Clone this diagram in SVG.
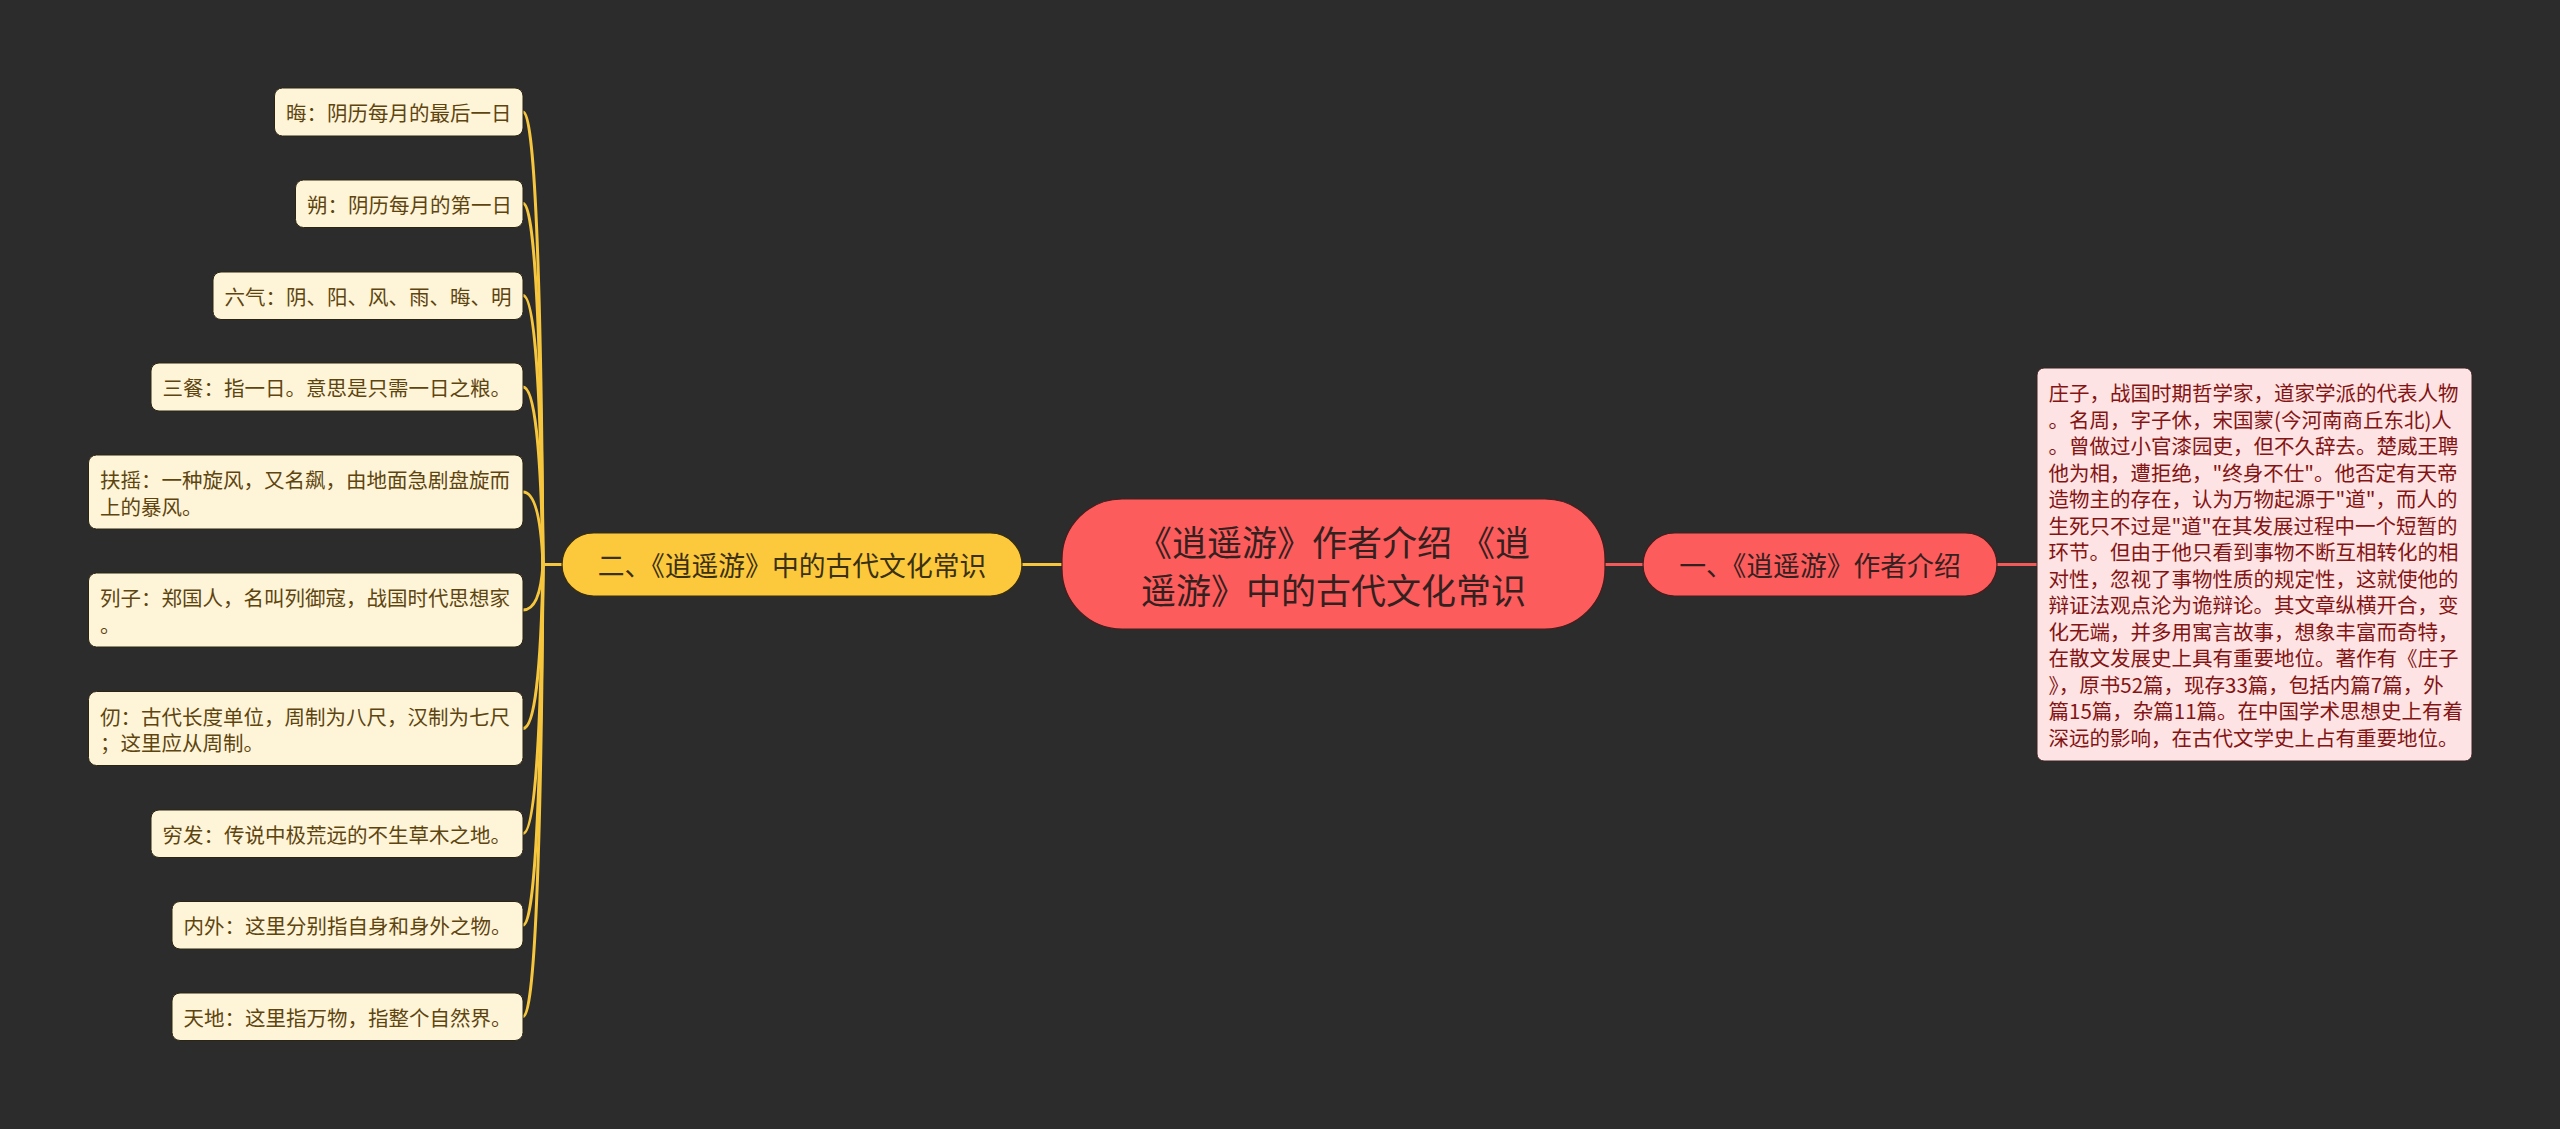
<svg xmlns="http://www.w3.org/2000/svg" width="2560" height="1129" viewBox="0 0 2560 1129">
<style>
text{font-family:"Noto Sans CJK SC","Noto Sans",sans-serif;dominant-baseline:central}
.leaf rect{fill:#fef5d9;stroke:#2a2410;stroke-width:1}
.leaf text{font-size:20.5px;fill:#5e4510}
.yel{fill:none;stroke:#f6c73e;stroke-width:3}
.red{fill:none;stroke:#f25a5a;stroke-width:3}
.redn rect{fill:#fc5c5c;stroke:#4a1c1c;stroke-width:1.2}
.yeln rect{fill:#fdc93c;stroke:#3a2e0c;stroke-width:1.2}
.br{font-size:26.8px}
.detail rect{fill:#fde3e3;stroke:#3a2020;stroke-width:1}
.detail text{font-size:20.5px;fill:#841414}
</style>
<rect width="2560" height="1129" fill="#2c2c2c"/>
<g id="connectors">
<path class="yel" d="M1062 564.5H1022"/>
<path class="yel" d="M562 564.5H543"/>
<path class="yel" d="M543 564.5Q540 112 523 112"/>
<path class="yel" d="M543 564.5Q540 203.5 523 203.5"/>
<path class="yel" d="M543 564.5Q540 295.5 523 295.5"/>
<path class="yel" d="M543 564.5Q540 387 523 387"/>
<path class="yel" d="M543 564.5Q540 492 523 492"/>
<path class="yel" d="M543 564.5Q540 610 523 610"/>
<path class="yel" d="M543 564.5Q540 728.5 523 728.5"/>
<path class="yel" d="M543 564.5Q540 833.5 523 833.5"/>
<path class="yel" d="M543 564.5Q540 925 523 925"/>
<path class="yel" d="M543 564.5Q540 1016.5 523 1016.5"/>
<path class="red" d="M1605 564.5H1643"/>
<path class="red" d="M1997 564.5H2037"/>
</g>
<g id="center" class="redn">
<rect x="1062" y="499" width="543" height="130" rx="60"/>
<text x="1333.5" y="540" font-size="35" text-anchor="middle" fill="#352020">《逍遥游》作者介绍 《逍</text>
<text x="1333.5" y="588" font-size="35" text-anchor="middle" fill="#352020">遥游》中的古代文化常识</text>
</g>
<g id="branch1" class="redn">
<rect x="1643" y="533" width="354" height="63" rx="31.5"/>
<text class="br" x="1820" y="564.5" text-anchor="middle" fill="#352020">一、《逍遥游》作者介绍</text>
</g>
<g id="branch2" class="yeln">
<rect x="562" y="533" width="460" height="63" rx="31.5"/>
<text class="br" x="792" y="564.5" text-anchor="middle" fill="#3a3012">二、《逍遥游》中的古代文化常识</text>
</g>
<g id="detail1" class="detail">
<rect x="2037" y="368" width="435" height="393" rx="7"/>
<text x="2048.5" y="392">庄子，战国时期哲学家，道家学派的代表人物</text>
<text x="2048.5" y="418.5">。名周，字子休，宋国蒙(今河南商丘东北)人</text>
<text x="2048.5" y="445">。曾做过小官漆园吏，但不久辞去。楚威王聘</text>
<text x="2048.5" y="471.5">他为相，遭拒绝，"终身不仕"。他否定有天帝</text>
<text x="2048.5" y="498">造物主的存在，认为万物起源于"道"，而人的</text>
<text x="2048.5" y="524.5">生死只不过是"道"在其发展过程中一个短暂的</text>
<text x="2048.5" y="551">环节。但由于他只看到事物不断互相转化的相</text>
<text x="2048.5" y="577.5">对性，忽视了事物性质的规定性，这就使他的</text>
<text x="2048.5" y="604">辩证法观点沦为诡辩论。其文章纵横开合，变</text>
<text x="2048.5" y="630.5">化无端，并多用寓言故事，想象丰富而奇特，</text>
<text x="2048.5" y="657">在散文发展史上具有重要地位。著作有《庄子</text>
<text x="2048.5" y="683.5">》，原书52篇，现存33篇，包括内篇7篇，外</text>
<text x="2048.5" y="710">篇15篇，杂篇11篇。在中国学术思想史上有着</text>
<text x="2048.5" y="736.5">深远的影响，在古代文学史上占有重要地位。</text>
</g>
<g id="leaf1" class="leaf"><rect x="274.5" y="88" width="248.5" height="48" rx="8"/><text x="286" y="112">晦：阴历每月的最后一日</text></g>
<g id="leaf2" class="leaf"><rect x="295.5" y="180" width="227.5" height="47.5" rx="8"/><text x="307" y="203.5">朔：阴历每月的第一日</text></g>
<g id="leaf3" class="leaf"><rect x="213" y="272" width="310" height="47.5" rx="8"/><text x="224.5" y="295.5">六气：阴、阳、风、雨、晦、明</text></g>
<g id="leaf4" class="leaf"><rect x="151" y="363" width="372" height="48" rx="8"/><text x="162.5" y="387">三餐：指一日。意思是只需一日之粮。</text></g>
<g id="leaf5" class="leaf"><rect x="88.5" y="455" width="434.5" height="74" rx="8"/><text x="100" y="479">扶摇：一种旋风，又名飙，由地面急剧盘旋而</text><text x="100" y="505.5">上的暴风。</text></g>
<g id="leaf6" class="leaf"><rect x="88.5" y="573" width="434.5" height="74" rx="8"/><text x="100" y="597">列子：郑国人，名叫列御寇，战国时代思想家</text><text x="100" y="623.5">。</text></g>
<g id="leaf7" class="leaf"><rect x="88.5" y="691.5" width="434.5" height="74" rx="8"/><text x="100" y="715.5">仞：古代长度单位，周制为八尺，汉制为七尺</text><text x="100" y="742">；这里应从周制。</text></g>
<g id="leaf8" class="leaf"><rect x="151" y="810" width="372" height="47.5" rx="8"/><text x="162.5" y="833.5">穷发：传说中极荒远的不生草木之地。</text></g>
<g id="leaf9" class="leaf"><rect x="172" y="901.5" width="351" height="47.5" rx="8"/><text x="183.5" y="925">内外：这里分别指自身和身外之物。</text></g>
<g id="leaf10" class="leaf"><rect x="172" y="993" width="351" height="47.5" rx="8"/><text x="183.5" y="1016.5">天地：这里指万物，指整个自然界。</text></g>
</svg>
